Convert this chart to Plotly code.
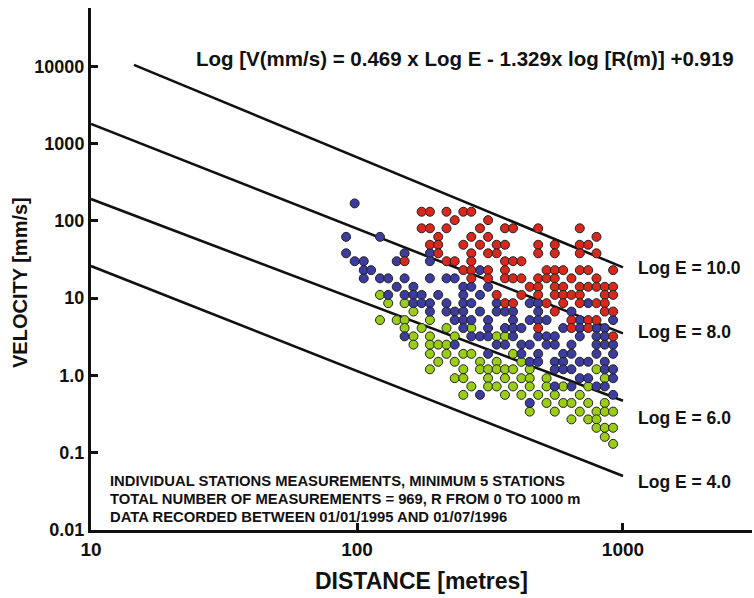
import plotly.graph_objects as go

# ---------------- data ----------------
# attenuation lines (Log E labels)
line_E10_distance = [14.5, 1000]
line_E10_velocity = [10400, 25]
line_E8_distance = [10, 1000]
line_E8_velocity = [1790, 3.5]
line_E6_distance = [10, 1000]
line_E6_velocity = [191, 0.47]
line_E4_distance = [10, 1000]
line_E4_velocity = [26, 0.05]

red_distance = [175, 188, 217, 251, 269,
                233, 311,
                175, 188, 217, 290, 360, 386, 480, 688,
                202, 269, 311, 795,
                188, 202, 251, 290, 335, 360, 480, 554, 688, 740,
                202, 269, 311, 335, 480, 554, 688, 795,
                151, 217, 233, 269, 360, 386, 415,
                251, 269, 311, 360, 516, 554, 596, 688, 740, 918,
                269, 311, 360, 386, 415, 480, 516, 554, 640, 795,
                446, 480, 554, 596, 688, 740, 795, 854, 918,
                335, 415, 480, 554, 596, 640, 688, 854, 918,
                360, 386, 516, 596, 688, 795, 854,
                554, 854, 918,
                640, 740, 795,
                480, 640, 740,
                918]
red_velocity = [131] * 5 + [102] * 2 + [80] * 8 + [62] * 4 + [49] * 10 + [38] * 8 + \
    [30] * 7 + [23] * 10 + [18] * 10 + [14] * 9 + [11] * 9 + [8.6] * 7 + \
    [6.7] * 3 + [5.2] * 3 + [4.1] * 3 + [3.2] * 1

blue_distance = [98,
                 91, 122,
                 91, 151, 188,
                 98, 106, 141, 188,
                 106, 113, 290,
                 106, 122, 131, 151, 188, 217, 233,
                 141, 163, 251, 269, 311,
                 131, 151, 163, 175, 202, 251, 290,
                 163, 175, 188, 217, 251, 269, 335, 446, 480, 740,
                 188, 217, 233, 251, 290, 335, 360, 386, 480, 640,
                 233, 251, 269, 311, 386, 446, 480, 516, 688, 918,
                 251, 311, 360, 386, 415, 596, 688, 795, 854,
                 151, 269, 290, 311, 386, 480, 516, 554, 688, 795, 854,
                 233, 335, 360, 415, 446, 516, 554, 640, 795, 854, 918,
                 311, 415, 480, 596, 640, 795, 918,
                 446, 480, 554, 596, 688, 740, 854,
                 554, 596, 640, 854, 918,
                 688, 740, 918,
                 554, 640, 795, 854,
                 290, 918,
                 446]
blue_velocity = [168] * 1 + [62] * 2 + [38] * 3 + [30] * 4 + [23] * 3 + [18] * 7 + \
    [14] * 5 + [11] * 7 + [8.6] * 10 + [6.7] * 10 + [5.2] * 10 + [4.1] * 9 + \
    [3.2] * 11 + [2.5] * 11 + [1.9] * 7 + [1.5] * 7 + [1.2] * 5 + [0.92] * 3 + \
    [0.72] * 4 + [0.56] * 2 + [0.44] * 1

green_distance = [122,
                  131, 151,
                  163,
                  122, 141, 151, 188,
                  151, 175, 217, 269,
                  163, 188, 233, 335, 360,
                  163, 188, 202, 217,
                  188, 217, 251, 269, 386,
                  202, 233, 290, 335, 415,
                  188, 251, 290, 311, 335, 360, 386, 446, 795,
                  233, 251, 311, 360, 415, 446, 516, 854,
                  269, 311, 335, 386, 446, 516, 596, 740,
                  251, 360, 415, 480, 554, 688,
                  516, 596, 640, 740, 854,
                  446, 554, 688, 795, 854, 918,
                  640, 740, 795,
                  795, 854, 918,
                  854,
                  918]
green_velocity = [11] * 1 + [8.6] * 2 + [6.7] * 1 + [5.2] * 4 + [4.1] * 4 + [3.2] * 5 + \
    [2.5] * 4 + [1.9] * 5 + [1.5] * 5 + [1.2] * 9 + [0.92] * 8 + [0.72] * 8 + \
    [0.56] * 6 + [0.44] * 5 + [0.34] * 6 + [0.27] * 3 + [0.21] * 3 + [0.16] * 1 + \
    [0.13] * 1

x_tick_values = [10, 100, 1000]
x_tick_labels = ["10", "100", "1000"]
y_tick_values = [0.01, 0.1, 1, 10, 100, 1000, 10000]
y_tick_labels = ["0.01", "0.1", "1.0", "10", "100", "1000", "10000"]

line_labels = ["Log E = 10.0", "Log E = 8.0", "Log E = 6.0", "Log E = 4.0"]
formula_text = "Log [V(mm/s) = 0.469 x Log E - 1.329x log [R(m)] +0.919"
note_lines = ["INDIVIDUAL STATIONS MEASUREMENTS, MINIMUM 5 STATIONS",
              "TOTAL NUMBER OF MEASUREMENTS = 969, R FROM 0 TO 1000 m",
              "DATA RECORDED BETWEEN 01/01/1995 AND 01/07/1996"]

# ---------------- figure ----------------
FONT = "Liberation Sans, Arial, Helvetica, sans-serif"
fig = go.Figure()

for xs, ys in [(line_E10_distance, line_E10_velocity), (line_E8_distance, line_E8_velocity),
               (line_E6_distance, line_E6_velocity), (line_E4_distance, line_E4_velocity)]:
    fig.add_trace(go.Scatter(x=xs, y=ys, mode="lines",
                             line=dict(color="#111111", width=2.6),
                             showlegend=False, hoverinfo="skip"))

marker_line = dict(color="#222222", width=1)
fig.add_trace(go.Scatter(x=green_distance, y=green_velocity, mode="markers",
                         marker=dict(size=9, color="#9acd15", line=marker_line),
                         showlegend=False))
fig.add_trace(go.Scatter(x=blue_distance, y=blue_velocity, mode="markers",
                         marker=dict(size=9, color="#3c3c9e", line=marker_line),
                         showlegend=False))
fig.add_trace(go.Scatter(x=red_distance, y=red_velocity, mode="markers",
                         marker=dict(size=9, color="#d8281e", line=marker_line),
                         showlegend=False))

L, R, T, B = 91, 2, 8, 68
W, H = 754, 598
pw, ph = W - L - R, H - T - B


def px(x):
    return (x - L) / pw


def py(y):
    return (H - B - y) / ph


annotations = []
for text, yy in zip(line_labels, [268, 332, 418, 482]):
    annotations.append(dict(text=text, x=px(636), y=py(yy), xref="paper", yref="paper",
                            xanchor="left", yanchor="middle", showarrow=False,
                            font=dict(family=FONT, size=17.5, color="#111", weight="bold")))
annotations.append(dict(text=formula_text, x=px(194), y=py(58), xref="paper", yref="paper",
                        xanchor="left", yanchor="middle", showarrow=False,
                        font=dict(family=FONT, size=20.5, color="#111", weight="bold")))
for text, yy in zip(note_lines, [481, 499, 517]):
    annotations.append(dict(text=text, x=px(108), y=py(yy), xref="paper", yref="paper",
                            xanchor="left", yanchor="middle", showarrow=False,
                            font=dict(family=FONT, size=14.8, color="#111", weight="bold")))
annotations.append(dict(text="DISTANCE [metres]", x=px(421), y=py(581), xref="paper", yref="paper",
                        xanchor="center", yanchor="middle", showarrow=False,
                        font=dict(family=FONT, size=23, color="#111", weight="bold")))
annotations.append(dict(text="VELOCITY [mm/s]", x=px(20), y=py(283), xref="paper", yref="paper",
                        xanchor="center", yanchor="middle", showarrow=False, textangle=-90,
                        font=dict(family=FONT, size=20, color="#111", weight="bold")))

fig.update_layout(
    width=W, height=H,
    margin=dict(l=L, r=R, t=T, b=B),
    paper_bgcolor="white", plot_bgcolor="white",
    annotations=annotations,
    xaxis=dict(type="log", range=[1, 3.485], showgrid=False, zeroline=False,
               showline=True, linecolor="#111", linewidth=3,
               ticks="inside", ticklen=7, tickwidth=3, tickcolor="#111",
               tickvals=x_tick_values, ticktext=x_tick_labels,
               tickfont=dict(family=FONT, size=19, color="#111", weight="bold")),
    yaxis=dict(type="log", range=[-2, 4.753], showgrid=False, zeroline=False,
               showline=True, linecolor="#111", linewidth=3,
               ticks="inside", ticklen=7, tickwidth=3, tickcolor="#111",
               tickvals=y_tick_values, ticktext=y_tick_labels,
               tickfont=dict(family=FONT, size=18, color="#111", weight="bold")),
)

fig.write_html("out.html")
